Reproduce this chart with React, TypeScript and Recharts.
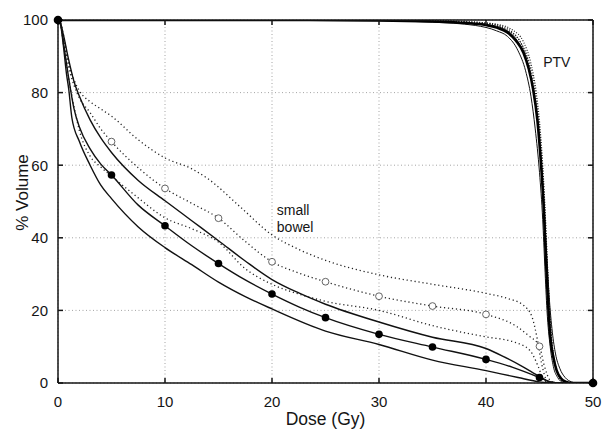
import React from "react";
import {
  ComposedChart, Line, XAxis, YAxis, CartesianGrid, ReferenceDot,
} from "recharts";

// small bowel DVH curves, [dose, %volume]
const sbUpperSolid = [
  [0, 100], [0.25, 99], [0.5, 96], [1, 89], [1.5, 83], [2, 79], [3, 72.5], [4, 67.5], [5, 63.5],
  [7.5, 55.8], [10, 50.2], [12.5, 44.7], [15, 39.2], [17.5, 33.6], [20, 28.5], [22.5, 24.8],
  [25, 21.7], [30, 16.8], [35, 12.6], [40, 9.5], [41.5, 7.5], [43.5, 4.4], [45, 1.8], [46, 0.3],
  [47, 0], [50, 0],
];
const sbMeanSolid = [
  [0, 100], [0.25, 99], [0.5, 94], [1, 84], [1.5, 75.5], [2, 70.5], [3, 64.5], [4, 60.3], [5, 57.3],
  [7.5, 49], [10, 43.3], [12.5, 37.8], [15, 32.9], [17.5, 28.4], [20, 24.5], [22.5, 21], [25, 18],
  [30, 13.4], [35, 9.9], [40, 6.5], [42.5, 4.3], [45, 1.5], [46, 0.3], [47, 0], [50, 0],
];
const sbLowerSolid = [
  [0, 100], [0.25, 98.5], [0.5, 93], [0.8, 85], [1, 81], [1.3, 73], [2, 66.5], [3, 60], [4, 54.5],
  [5, 50.8], [7.5, 43], [10, 37.3], [12.5, 32.6], [15, 27.8], [17.5, 23.8], [20, 20.4], [25, 14.3],
  [30, 10.6], [35, 6.3], [40, 3.4], [43, 1.5], [45, 0.3], [46, 0], [50, 0],
];
const sbUpperDotted = [
  [0, 100], [0.25, 99], [0.5, 96], [1, 88], [1.5, 83.5], [2, 80.5], [3, 77.5], [4, 75.5], [5, 73.5],
  [7.5, 67], [10, 62], [12.5, 59], [14, 56.3], [17, 48.6], [20, 40.8], [22.5, 36.8], [25, 33.8],
  [30, 29.8], [35, 27.2], [40, 24.7], [42, 23.3], [43.5, 21.4], [44.3, 18.2], [44.8, 12],
  [45.2, 5.3], [45.7, 0.7], [46.3, 0], [50, 0],
];
const sbMeanDotted = [
  [0, 100], [0.25, 99], [0.5, 95], [1, 87], [1.5, 82], [2, 78.5], [3, 74.5], [4, 70], [5, 66.5],
  [7.5, 59.3], [10, 53.6], [12.5, 49.5], [15, 45.4], [17.5, 39], [20, 33.4], [22.5, 30.3],
  [25, 27.9], [30, 23.9], [35, 21.2], [40, 18.9], [42.9, 15.5], [44, 13], [45, 10.1], [45.4, 5.3],
  [46, 0.7], [46.5, 0], [50, 0],
];
const sbLowerDotted = [
  [0, 100], [0.25, 98.5], [0.5, 93.5], [1, 84], [1.5, 76], [2, 69.5], [3, 62.5], [4, 59.5], [5, 57],
  [7.5, 51], [10, 45.5], [12.5, 42.5], [15, 38.8], [17.5, 31.5], [20, 27.2], [22.5, 24.5],
  [25, 22.5], [30, 20], [35, 15.8], [40, 12.7], [42.6, 11.3], [44.1, 9], [44.9, 4.4], [45.4, 0.7],
  [46, 0], [50, 0],
];

// PTV curves
const ptvMeanSolid = [
  [0, 100], [20, 100], [30, 99.9], [35, 99.6], [38, 99.2], [40, 98.6], [41, 97.9], [42, 96.6],
  [42.8, 94.3], [43.5, 91], [44, 86.5], [44.4, 81], [44.8, 72.5], [45.1, 62], [45.4, 48],
  [45.6, 34], [45.8, 22], [46, 13], [46.3, 7], [46.6, 3.5], [47, 1.3], [47.5, 0.3], [48, 0], [50, 0],
];
const ptvSolidHigh = [
  [0, 100], [30, 99.9], [36, 99.5], [40, 98.8], [42, 97], [43, 94], [43.7, 90], [44.2, 84],
  [44.7, 75], [45.1, 63], [45.4, 50], [45.7, 34], [45.9, 24], [46.2, 14], [46.5, 8], [46.9, 4],
  [47.4, 1.5], [48, 0.3], [48.5, 0], [50, 0],
];
const ptvSolidLow = [
  [0, 100], [30, 99.8], [35, 99.4], [39, 98.5], [41, 97], [42, 95.5], [43, 91.5], [43.7, 86],
  [44.2, 79], [44.6, 70], [45, 58], [45.3, 45], [45.5, 32], [45.7, 20], [46, 10], [46.3, 4.5],
  [46.7, 1.5], [47.2, 0.2], [47.8, 0], [50, 0],
];
const ptvMeanDotted = [
  [0, 100], [30, 100], [36, 99.8], [40, 99.2], [41.5, 98.2], [42.5, 96.5], [43.3, 93.5], [44, 88.5],
  [44.5, 82], [44.9, 73], [45.2, 63], [45.5, 48], [45.7, 35], [45.9, 23], [46.1, 13], [46.4, 6],
  [46.7, 2.5], [47.1, 0.6], [47.6, 0], [50, 0],
];
const ptvHighDotted = [
  [0, 100], [30, 100], [38, 99.5], [41, 98.8], [42.5, 97.2], [43.5, 94], [44.2, 88], [44.7, 80],
  [45, 72], [45.3, 60], [45.55, 46], [45.75, 32], [45.95, 20], [46.2, 10], [46.5, 4.5],
  [46.9, 1.5], [47.4, 0.2], [48, 0], [50, 0],
];
const ptvLowDotted = [
  [0, 100], [30, 100], [40, 99], [42, 97.2], [43.2, 94], [44, 88], [44.6, 78], [45, 68], [45.3, 55],
  [45.6, 38], [45.8, 26], [46, 16], [46.3, 8], [46.6, 3.5], [47, 1], [47.5, 0], [50, 0],
];

// markers every 5 Gy
const filledDoses = [0, 5, 10, 15, 20, 25, 30, 35, 40, 45, 50];
const filledVolumes = [100, 57.3, 43.3, 32.9, 24.5, 18.0, 13.4, 9.9, 6.5, 1.5, 0];
const openDoses = [5, 10, 15, 20, 25, 30, 35, 40, 45];
const openVolumes = [66.5, 53.6, 45.4, 33.4, 27.9, 23.9, 21.2, 18.9, 10.1];

const xTicks = [0, 10, 20, 30, 40, 50];
const yTicks = [0, 20, 40, 60, 80, 100];

const FONT = "'Liberation Sans', Arial, Helvetica, sans-serif";
const INK = "#151515";

const toPts = (arr: number[][]) => arr.map(([x, y]) => ({ x, y }));
const zipPts = (xs: number[], ys: number[]) => xs.map((x, i) => ({ x, y: ys[i] }));

const solidCurves = [sbUpperSolid, sbMeanSolid, sbLowerSolid];
const dottedCurves = [sbUpperDotted, sbMeanDotted, sbLowerDotted];
const ptvThin = [ptvSolidHigh, ptvSolidLow];
const ptvDotted = [ptvMeanDotted, ptvHighDotted, ptvLowDotted];

const tickStyle = { fontSize: 15, fill: INK, fontFamily: FONT };

// eslint-disable-next-line @typescript-eslint/no-explicit-any
const FilledDot = (props: any) => {
  const { cx, cy, payload } = props;
  if (cx == null || cy == null) return null;
  const r = payload.x === 0 || payload.x === 50 ? 4.3 : 3.8;
  return <circle cx={cx} cy={cy} r={r} fill="#000" stroke="none" />;
};

// eslint-disable-next-line @typescript-eslint/no-explicit-any
const OpenDot = (props: any) => {
  const { cx, cy } = props;
  if (cx == null || cy == null) return null;
  return <circle cx={cx} cy={cy} r={3.4} fill="#fff" stroke="#555" strokeWidth={0.9} />;
};

// eslint-disable-next-line @typescript-eslint/no-explicit-any
const textAt = (lines: string[], size: number) => (p: any) => {
  const vb = p.viewBox || {};
  const x = (vb.x ?? 0) + (vb.width ?? 0) / 2;
  const y = (vb.y ?? 0) + (vb.height ?? 0) / 2;
  return (
    <text x={x} y={y} fontSize={size} fontFamily={FONT} fill={INK}>
      {lines.map((l, i) => (
        <tspan key={i} x={x} dy={i === 0 ? 0 : 16.7}>{l}</tspan>
      ))}
    </text>
  );
};

export default function App() {
  return (
    <div style={{ position: "absolute", left: 0, top: 0, background: "#fff" }}>
      <ComposedChart
        width={605}
        height={433}
        margin={{ top: 19, right: 11, bottom: 0, left: 0 }}
      >
        <CartesianGrid stroke="#9a9a9a" strokeDasharray="1 2.5" strokeWidth={0.9} />
        <XAxis
          dataKey="x"
          type="number"
          domain={[0, 50]}
          ticks={xTicks}
          allowDataOverflow
          height={50}
          tickSize={-5}
          tickMargin={18}
          tick={tickStyle}
          stroke={INK}
          strokeWidth={1.5}
          label={{
            value: "Dose (Gy)",
            position: "insideBottom",
            offset: 8,
            style: { fontSize: 17.5, fill: INK, fontFamily: FONT },
          }}
        />
        <XAxis
          xAxisId="top"
          dataKey="x"
          orientation="top"
          type="number"
          domain={[0, 50]}
          ticks={xTicks}
          height={1}
          tickSize={-5}
          tickFormatter={() => ""}
          stroke={INK}
          strokeWidth={1.5}
        />
        <YAxis
          dataKey="y"
          type="number"
          domain={[0, 100]}
          ticks={yTicks}
          allowDataOverflow
          width={58}
          tickSize={-5}
          tickMargin={15}
          tick={tickStyle}
          stroke={INK}
          strokeWidth={1.5}
          label={{
            content: (p: { viewBox?: { x: number; y: number; height: number } }) => {
              const vb = p.viewBox || { x: 0, y: 0, height: 0 };
              const x = vb.x + 27.5;
              const y = vb.y + vb.height / 2 - 9;
              return (
                <text
                  x={x}
                  y={y}
                  transform={`rotate(-90 ${x} ${y})`}
                  textAnchor="middle"
                  fontSize={17}
                  fontFamily={FONT}
                  fill={INK}
                >
                  % Volume
                </text>
              );
            },
          }}
        />
        <YAxis
          yAxisId="right"
          dataKey="y"
          orientation="right"
          type="number"
          domain={[0, 100]}
          ticks={yTicks}
          width={1}
          tickSize={-5}
          tickFormatter={() => ""}
          stroke={INK}
          strokeWidth={1.5}
        />

        {ptvDotted.map((c, i) => (
          <Line
            key={"pd" + i}
            data={toPts(c)}
            dataKey="y"
            type="monotone"
            stroke="#222"
            strokeWidth={1.2}
            strokeDasharray="1 1.6"
            dot={false}
            isAnimationActive={false}
          />
        ))}
        {ptvThin.map((c, i) => (
          <Line
            key={"pt" + i}
            data={toPts(c)}
            dataKey="y"
            type="monotone"
            stroke="#111"
            strokeWidth={1}
            dot={false}
            isAnimationActive={false}
          />
        ))}
        <Line
          data={toPts(ptvMeanSolid)}
          dataKey="y"
          type="monotone"
          stroke="#000"
          strokeWidth={2.6}
          dot={false}
          isAnimationActive={false}
        />

        {dottedCurves.map((c, i) => (
          <Line
            key={"sd" + i}
            data={toPts(c)}
            dataKey="y"
            type="monotone"
            stroke="#222"
            strokeWidth={1.3}
            strokeDasharray="1.2 2.8"
            dot={false}
            isAnimationActive={false}
          />
        ))}
        {solidCurves.map((c, i) => (
          <Line
            key={"ss" + i}
            data={toPts(c)}
            dataKey="y"
            type="monotone"
            stroke="#111"
            strokeWidth={1.4}
            dot={false}
            isAnimationActive={false}
          />
        ))}

        <Line
          data={zipPts(openDoses, openVolumes)}
          dataKey="y"
          stroke="none"
          strokeWidth={0}
          dot={<OpenDot />}
          activeDot={false}
          isAnimationActive={false}
        />
        <Line
          data={zipPts(filledDoses, filledVolumes)}
          dataKey="y"
          xAxisId="top"
          yAxisId="right"
          stroke="none"
          strokeWidth={0}
          dot={<FilledDot />}
          activeDot={false}
          isAnimationActive={false}
        />

        <ReferenceDot
          x={20.45}
          y={46.3}
          r={0}
          fill="none"
          stroke="none"
          label={{ content: textAt(["small", "bowel"], 14) }}
        />
        <ReferenceDot
          x={45.35}
          y={87.1}
          r={0}
          fill="none"
          stroke="none"
          label={{ content: textAt(["PTV"], 14) }}
        />
      </ComposedChart>
    </div>
  );
}
